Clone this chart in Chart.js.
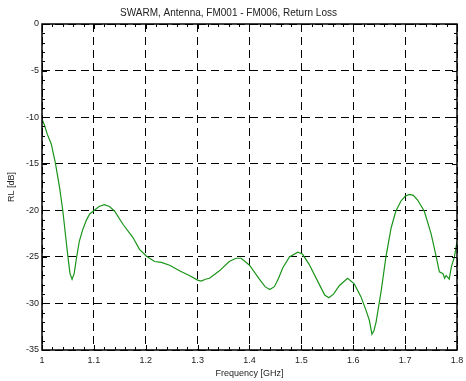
<!DOCTYPE html>
<html>
<head>
<meta charset="utf-8">
<script src="https://cdn.jsdelivr.net/npm/chart.js@4"></script>
<style>
  html, body { margin: 0; padding: 0; background: #fff; }
  #wrap { width: 466px; height: 381px; }
</style>
</head>
<body>
<div id="wrap"><canvas id="c"></canvas></div>
<script>
// frequency in GHz, return loss in dB
const freq = [
  1.000, 1.005, 1.010, 1.018, 1.026, 1.034, 1.040, 1.046, 1.050, 1.054,
  1.058, 1.062, 1.066, 1.072, 1.079, 1.086, 1.092, 1.101, 1.110, 1.120,
  1.130, 1.140, 1.156, 1.175, 1.188, 1.201, 1.217, 1.230, 1.246, 1.265,
  1.284, 1.300, 1.307, 1.315, 1.323, 1.342, 1.361, 1.374, 1.384, 1.400,
  1.419, 1.430, 1.439, 1.448, 1.456, 1.464, 1.477, 1.493, 1.502, 1.515,
  1.534, 1.545, 1.553, 1.562, 1.573, 1.589, 1.602, 1.615, 1.625, 1.631,
  1.636, 1.640, 1.644, 1.654, 1.663, 1.673, 1.682, 1.692, 1.700, 1.708,
  1.716, 1.724, 1.737, 1.750, 1.760, 1.766, 1.773, 1.776, 1.779, 1.785,
  1.789, 1.795, 1.800
];
const rl = [
  -10.2, -10.9, -11.8, -12.9, -15.0, -17.6, -20.0, -23.0, -25.0, -26.8,
  -27.4, -26.8, -25.3, -23.3, -22.0, -21.0, -20.4, -20.0, -19.6, -19.4,
  -19.6, -20.1, -21.5, -22.9, -24.2, -24.9, -25.5, -25.6, -25.9, -26.5,
  -27.0, -27.5, -27.6, -27.4, -27.3, -26.5, -25.5, -25.15, -25.15, -25.9,
  -27.4, -28.2, -28.5, -28.2, -27.3, -26.2, -25.0, -24.5, -24.7, -25.8,
  -27.9, -29.1, -29.4, -29.0, -28.1, -27.3, -27.9, -29.3, -30.8, -31.8,
  -33.3, -32.9, -32.0, -28.6, -25.0, -21.9, -20.1, -19.0, -18.5, -18.3,
  -18.4, -18.9, -20.1, -22.5, -25.0, -26.6, -26.8, -27.3, -27.0, -27.4,
  -26.1, -25.0, -23.4
];
const xTicks = [1, 1.1, 1.2, 1.3, 1.4, 1.5, 1.6, 1.7, 1.8];
const yTicks = [0, -5, -10, -15, -20, -25, -30, -35];

const points = freq.map((f, i) => ({ x: f, y: rl[i] }));

// inward major/minor ticks on all four sides plus the frame
const frameTicks = {
  id: 'frameTicks',
  afterDraw(chart) {
    const ctx = chart.ctx;
    const a = chart.chartArea;
    const xs = chart.scales.x, ys = chart.scales.y;
    ctx.save();
    ctx.strokeStyle = '#000';
    ctx.lineWidth = 1;
    ctx.beginPath();
    for (let i = 0; i <= 40; i++) {
      const px = Math.round(xs.getPixelForValue(1 + i * 0.02)) + 0.5;
      const len = i % 5 === 0 ? 5 : 3;
      ctx.moveTo(px, a.bottom); ctx.lineTo(px, a.bottom - len);
      ctx.moveTo(px, a.top); ctx.lineTo(px, a.top + len);
    }
    for (let i = 0; i <= 35; i++) {
      const py = Math.round(ys.getPixelForValue(-i)) + 0.5;
      const len = i % 5 === 0 ? 5 : 3;
      ctx.moveTo(a.left, py); ctx.lineTo(a.left + len, py);
      ctx.moveTo(a.right, py); ctx.lineTo(a.right - len, py);
    }
    ctx.stroke();
    ctx.lineWidth = 1.5;
    ctx.strokeRect(a.left, a.top, a.right - a.left, a.bottom - a.top);
    ctx.restore();
  }
};

new Chart(document.getElementById('c'), {
  type: 'line',
  data: {
    datasets: [{
      data: points,
      borderColor: '#1a941a',
      borderWidth: 1.2,
      pointRadius: 0,
      tension: 0,
      fill: false
    }]
  },
  options: {
    responsive: true,
    maintainAspectRatio: false,
    animation: false,
    layout: { padding: { left: 0, right: 9, top: 0, bottom: 0 } },
    plugins: {
      legend: { display: false },
      tooltip: { enabled: false },
      title: {
        display: true,
        text: 'SWARM, Antenna, FM001 - FM006, Return Loss',
        color: '#222',
        font: { family: 'Liberation Sans, Arial, sans-serif', size: 10, weight: 'normal' },
        padding: { top: 7, bottom: 5 }
      }
    },
    scales: {
      x: {
        type: 'linear',
        min: 1,
        max: 1.8,
        afterFit(s) { s.height = 31; s.paddingRight = 0; s.paddingLeft = 0; },
        afterBuildTicks(s) { s.ticks = xTicks.map(v => ({ value: v })); },
        ticks: {
          color: '#222',
          font: { family: 'Liberation Sans, Arial, sans-serif', size: 9 },
          padding: 5,
          maxRotation: 0,
          callback: v => String(Math.round(v * 10) / 10)
        },
        grid: { color: '#000', lineWidth: 1, drawTicks: false },
        border: { display: false, dash: [8, 5] },
        title: {
          display: true,
          text: 'Frequency [GHz]',
          color: '#222',
          font: { family: 'Liberation Sans, Arial, sans-serif', size: 9 },
          padding: { top: 0, bottom: 2 }
        }
      },
      y: {
        type: 'linear',
        min: -35,
        max: 0,
        afterFit(s) { s.width = 42; },
        afterBuildTicks(s) { s.ticks = yTicks.map(v => ({ value: v })); },
        ticks: {
          color: '#222',
          font: { family: 'Liberation Sans, Arial, sans-serif', size: 9 },
          padding: 3
        },
        grid: { color: '#000', lineWidth: 1, drawTicks: false },
        border: { display: false, dash: [8, 5] },
        title: {
          display: true,
          text: 'RL [dB]',
          color: '#222',
          font: { family: 'Liberation Sans, Arial, sans-serif', size: 9 },
          padding: { top: 6, bottom: 0 }
        }
      }
    }
  },
  plugins: [frameTicks]
});
</script>
</body>
</html>
